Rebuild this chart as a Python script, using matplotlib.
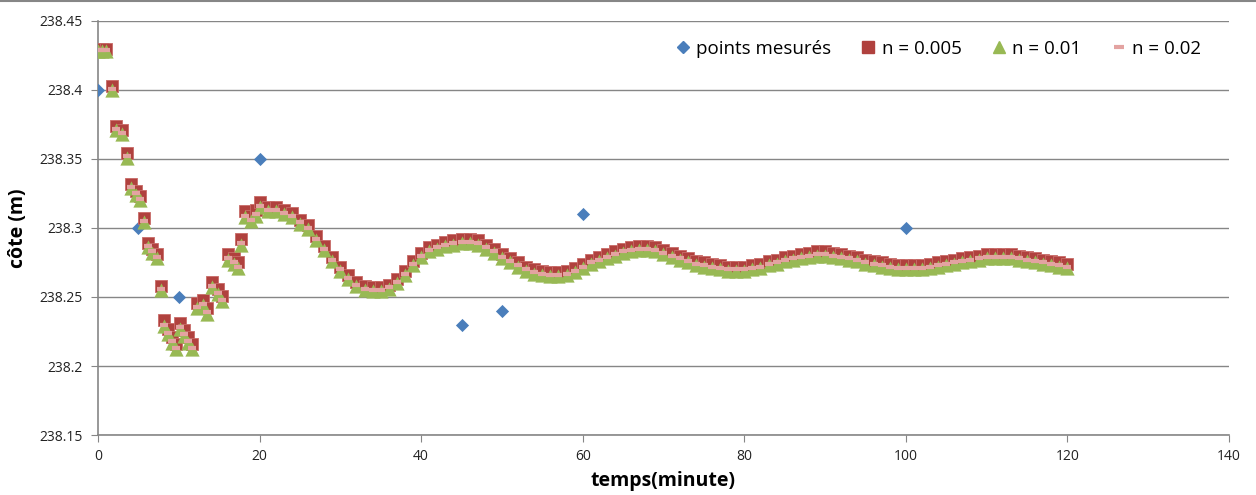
import matplotlib.pyplot as plt
from matplotlib import ticker
from matplotlib.lines import Line2D

plt.rcParams['font.family'] = ['Open Sans', 'DejaVu Sans']

# Points mesurés
t_mes = [0, 5, 10, 20, 45, 50, 60, 100]
z_mes = [238.40, 238.30, 238.25, 238.35, 238.23, 238.24, 238.31, 238.30]

# Temps de calcul (minutes)
t_sim = [0.0, 0.5, 1.0, 1.75, 2.25, 2.95, 3.6, 4.1, 4.65, 5.2, 5.7, 6.15, 6.7, 7.25,
         7.75, 8.2, 8.7, 9.2, 9.7, 10.2, 10.7, 11.2, 11.7, 12.25, 13.0, 13.5, 14.1,
         14.85, 15.35, 16.1, 16.8, 17.3, 17.7, 18.2, 18.9, 19.55] + list(range(20, 121))

# n = 0.005
z_005 = [238.430, 238.430, 238.430, 238.403, 238.374, 238.371, 238.354, 238.332, 238.327,
         238.323, 238.307, 238.289, 238.285, 238.281, 238.258, 238.233, 238.227, 238.221,
         238.216, 238.231, 238.226, 238.221, 238.216, 238.246, 238.248, 238.242, 238.261,
         238.256, 238.251, 238.281, 238.278, 238.275, 238.292, 238.312, 238.309, 238.313,
         238.319, 238.315, 238.315, 238.313, 238.311, 238.306, 238.302, 238.294, 238.287,
         238.279, 238.272, 238.266, 238.261, 238.258, 238.257, 238.257, 238.259, 238.263,
         238.269, 238.276, 238.282, 238.286, 238.288, 238.290, 238.291, 238.292, 238.292,
         238.291, 238.288, 238.285, 238.281, 238.278, 238.275, 238.272, 238.270, 238.269,
         238.268, 238.268, 238.269, 238.271, 238.274, 238.277, 238.279, 238.281, 238.283,
         238.285, 238.286, 238.287, 238.287, 238.286, 238.284, 238.282, 238.280, 238.278,
         238.276, 238.275, 238.274, 238.273, 238.272, 238.272, 238.272, 238.273, 238.274,
         238.276, 238.277, 238.279, 238.280, 238.281, 238.282, 238.283, 238.283, 238.282,
         238.281, 238.280, 238.279, 238.277, 238.276, 238.275, 238.274, 238.273, 238.273,
         238.273, 238.273, 238.274, 238.275, 238.276, 238.277, 238.278, 238.279, 238.280,
         238.281, 238.281, 238.281, 238.281, 238.280, 238.279, 238.278, 238.277, 238.276,
         238.275, 238.274]

# n = 0.01
z_01 = [238.428, 238.428, 238.428, 238.400, 238.371, 238.368, 238.351, 238.329, 238.324,
        238.320, 238.304, 238.286, 238.282, 238.278, 238.255, 238.229, 238.223, 238.217,
        238.212, 238.227, 238.222, 238.217, 238.212, 238.242, 238.244, 238.238, 238.257,
        238.252, 238.247, 238.277, 238.274, 238.271, 238.288, 238.308, 238.305, 238.309,
        238.315, 238.312, 238.312, 238.310, 238.308, 238.303, 238.299, 238.291, 238.284,
        238.276, 238.269, 238.263, 238.258, 238.255, 238.254, 238.254, 238.256, 238.260,
        238.266, 238.273, 238.279, 238.283, 238.285, 238.287, 238.288, 238.289, 238.289,
        238.288, 238.285, 238.282, 238.278, 238.275, 238.272, 238.269, 238.267, 238.266,
        238.265, 238.265, 238.266, 238.268, 238.271, 238.274, 238.276, 238.278, 238.280,
        238.282, 238.283, 238.284, 238.284, 238.283, 238.281, 238.279, 238.277, 238.275,
        238.273, 238.272, 238.271, 238.270, 238.269, 238.269, 238.269, 238.270, 238.271,
        238.273, 238.274, 238.276, 238.277, 238.278, 238.279, 238.280, 238.280, 238.279,
        238.278, 238.277, 238.276, 238.274, 238.273, 238.272, 238.271, 238.270, 238.270,
        238.270, 238.270, 238.271, 238.272, 238.273, 238.274, 238.275, 238.276, 238.277,
        238.278, 238.278, 238.278, 238.278, 238.277, 238.276, 238.275, 238.274, 238.273,
        238.272, 238.271]

# n = 0.02
z_02 = [238.429, 238.429, 238.429, 238.401, 238.372, 238.369, 238.352, 238.330, 238.325,
        238.321, 238.305, 238.287, 238.283, 238.279, 238.256, 238.230, 238.224, 238.218,
        238.213, 238.228, 238.223, 238.218, 238.213, 238.243, 238.245, 238.239, 238.258,
        238.253, 238.248, 238.278, 238.275, 238.272, 238.289, 238.309, 238.306, 238.310,
        238.316, 238.313, 238.313, 238.311, 238.309, 238.304, 238.300, 238.292, 238.285,
        238.277, 238.270, 238.264, 238.259, 238.256, 238.255, 238.255, 238.257, 238.261,
        238.267, 238.274, 238.280, 238.284, 238.286, 238.288, 238.289, 238.290, 238.290,
        238.289, 238.286, 238.283, 238.279, 238.276, 238.273, 238.270, 238.268, 238.267,
        238.266, 238.266, 238.267, 238.269, 238.272, 238.275, 238.277, 238.279, 238.281,
        238.283, 238.284, 238.285, 238.285, 238.284, 238.282, 238.280, 238.278, 238.276,
        238.274, 238.273, 238.272, 238.271, 238.270, 238.270, 238.270, 238.271, 238.272,
        238.274, 238.275, 238.277, 238.278, 238.279, 238.280, 238.281, 238.281, 238.280,
        238.279, 238.278, 238.277, 238.275, 238.274, 238.273, 238.272, 238.271, 238.271,
        238.271, 238.271, 238.272, 238.273, 238.274, 238.275, 238.276, 238.277, 238.278,
        238.279, 238.279, 238.279, 238.279, 238.278, 238.277, 238.276, 238.275, 238.274,
        238.273, 238.272]

c_blue = '#4A7EBB'
c_red = '#B0413E'
c_green = '#98B954'
c_pink = '#E3A3A1'
c_axis = '#868686'

fig = plt.figure(figsize=(12.56, 4.95), dpi=100)
ax = fig.add_axes([0.078, 0.1212, 0.9005, 0.8364])

ax.scatter(t_mes, z_mes, marker='D', s=45, color=c_blue, zorder=3, linewidths=0)
ax.scatter(t_sim, z_005, marker='s', s=80, color=c_red, edgecolors='#C86B68', linewidths=0.6, zorder=4)
ax.scatter(t_sim, z_01, marker='^', s=105, color=c_green, linewidths=0, zorder=5)
ax.scatter(t_sim, z_02, marker='_', s=35, color=c_pink, linewidths=3, zorder=6)

ax.set_xlim(0, 140)
ax.set_ylim(238.15, 238.45)
ax.set_xticks(range(0, 141, 20))
ax.set_yticks([238.15, 238.2, 238.25, 238.3, 238.35, 238.4, 238.45])
ax.yaxis.set_major_formatter(ticker.FuncFormatter(lambda v, p: f'{round(v, 2):g}'))
ax.grid(axis='y', color=c_axis, linewidth=1)
ax.set_axisbelow(True)

for s in ['top', 'right']:
    ax.spines[s].set_visible(False)
for s in ['left', 'bottom']:
    ax.spines[s].set_color(c_axis)
    ax.spines[s].set_linewidth(1.2)
ax.tick_params(axis='both', direction='out', length=5, color=c_axis, labelsize=10, labelcolor='#222222')
ax.tick_params(axis='x', pad=5)
ax.tick_params(axis='y', pad=6)

ax.set_xlabel('temps(minute)', fontsize=14, fontweight='bold', labelpad=5)
ax.set_ylabel('côte (m)', fontsize=14, fontweight='bold', labelpad=8)

handles = [
    Line2D([], [], marker='D', linestyle='none', color=c_blue, markersize=6.5),
    Line2D([], [], marker='s', linestyle='none', color=c_red, markersize=9),
    Line2D([], [], marker='^', linestyle='none', color=c_green, markersize=9),
    Line2D([], [], marker='_', linestyle='none', color=c_pink, markersize=7, markeredgewidth=3),
]
labels = ['points mesurés', 'n = 0.005', 'n = 0.01', 'n = 0.02']
ax.legend(handles, labels, loc='upper right', bbox_to_anchor=(0.99, 0.995), ncol=4,
          frameon=False, fontsize=13.5, handlelength=0.8, handletextpad=0.3, columnspacing=1.6)

fig.add_artist(Line2D([0, 1], [0.998, 0.998], color=c_axis, linewidth=1.5, transform=fig.transFigure))

fig.savefig('out.png', dpi=100)
